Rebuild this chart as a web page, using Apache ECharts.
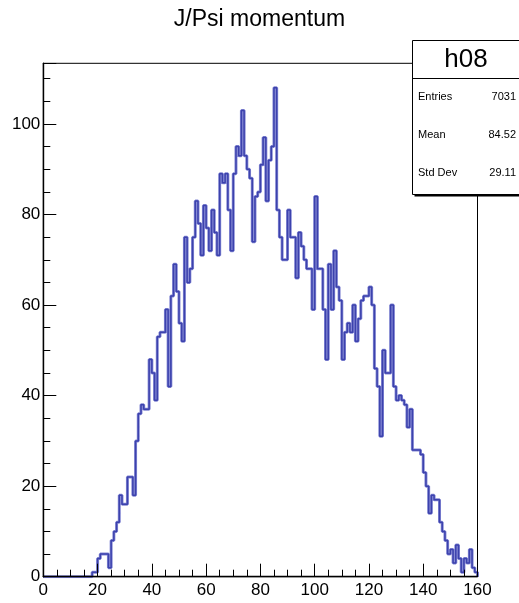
<!DOCTYPE html>
<html>
<head>
<meta charset="utf-8">
<script src="https://cdn.jsdelivr.net/npm/echarts@6/dist/echarts.min.js"></script>
<style>
  html, body { margin: 0; padding: 0; background: #fff; }
  #chart { width: 519px; height: 603px; }
</style>
</head>
<body>
<div id="chart"></div>
<script>
// Histogram h08: J/Psi momentum, 160 bins of width 1 from 0 to 160
const histName = 'h08';
const histTitle = 'J/Psi momentum';
const xLow = 0;
const xHigh = 160;
const yMax = 113.4;

// bin contents, 20 bins per row
const counts = [
  0, 0, 0, 0, 0, 0, 0, 0, 0, 0, 0, 0, 0, 0, 0, 0, 0, 0, 1, 1,
  4, 5, 5, 5, 2, 8, 10, 12, 18, 16, 16, 22, 22, 18, 30, 36, 38, 37, 37, 48,
  45, 39, 53, 54, 54, 59, 42, 62, 69, 63, 56, 52, 75, 65, 68, 75, 83, 78, 71, 82,
  77, 72, 81, 76, 71, 89, 87, 89, 81, 72, 89, 95, 93, 103, 93, 90, 88, 74, 84, 85,
  91, 97, 83, 92, 95, 108, 81, 75, 70, 70, 81, 75, 75, 66, 76, 73, 70, 68, 68, 59,
  84, 68, 68, 59, 48, 69, 59, 72, 64, 61, 48, 54, 56, 54, 60, 52, 57, 61, 62, 62,
  64, 60, 46, 42, 31, 50, 45, 45, 60, 42, 39, 40, 39, 38, 33, 37, 28, 28, 28, 27,
  23, 20, 14, 18, 17, 17, 12, 10, 8, 5, 6, 3, 7, 4, 1, 4, 3, 6, 2, 1
];

// statistics box
const statLabels = ['Entries', 'Mean', 'Std Dev'];
const statValues = ['7031', '84.52', '29.11'];

// step outline: each bin starts at its low edge, closed down to zero at the end
const binWidth = (xHigh - xLow) / counts.length;
const outline = counts.map((c, i) => [xLow + i * binWidth, c]);
outline.push([xHigh, counts[counts.length - 1]]);
outline.push([xHigh, 0]);

const font = 'Liberation Sans, Arial, Helvetica, sans-serif';
const chart = echarts.init(document.getElementById('chart'), null, { renderer: 'canvas' });

const box = { x: 412.5, y: 40.5, w: 120, h: 154 };
const rowY = [97, 135, 173];

const graphics = [
  { type: 'rect', z: 100, shape: { x: box.x + 2, y: box.y + 2, width: box.w, height: box.h },
    style: { fill: '#000' } },
  { type: 'rect', z: 101, shape: { x: box.x, y: box.y, width: box.w, height: box.h },
    style: { fill: '#fff', stroke: '#000', lineWidth: 1 } },
  { type: 'line', z: 102, shape: { x1: box.x, y1: 78.5, x2: box.x + box.w, y2: 78.5 },
    style: { stroke: '#000', lineWidth: 1 } },
  { type: 'text', z: 103, x: 466, y: 60,
    style: { text: histName, font: '26px ' + font, fill: '#000', align: 'center', verticalAlign: 'middle' } }
];
statLabels.forEach((lab, i) => {
  graphics.push({ type: 'text', z: 103, x: 418, y: rowY[i],
    style: { text: lab, font: '11px ' + font, fill: '#000', align: 'left', verticalAlign: 'middle' } });
  graphics.push({ type: 'text', z: 103, x: 516, y: rowY[i],
    style: { text: statValues[i], font: '11px ' + font, fill: '#000', align: 'right', verticalAlign: 'middle' } });
});

// the outline is stroked twice: a soft wide halo and a darker core
const stepSeries = (color, width, z) => ({
  type: 'line',
  step: 'end',
  data: outline,
  symbol: 'none',
  clip: true,
  silent: true,
  z: z,
  lineStyle: { color: color, width: width }
});

chart.setOption({
  animation: false,
  backgroundColor: '#fff',
  title: {
    text: histTitle,
    left: 'center',
    top: 3,
    textStyle: { fontSize: 23, fontWeight: 'normal', color: '#000', fontFamily: font }
  },
  grid: {
    left: 43.3, top: 63.3, right: 41.5, bottom: 26.3,
    show: true, borderColor: '#000', borderWidth: 1, backgroundColor: '#fff'
  },
  xAxis: {
    type: 'value', min: xLow, max: xHigh, interval: 20, z: 5,
    axisLine: { show: true, lineStyle: { color: '#000', width: 1.4 } },
    axisTick: { show: true, inside: true, length: 13, lineStyle: { color: '#000', width: 1 } },
    minorTick: { show: true, splitNumber: 4, length: 7, lineStyle: { color: '#000', width: 1 } },
    splitLine: { show: false },
    axisLabel: { color: '#000', fontSize: 17, fontFamily: font, margin: 5 }
  },
  yAxis: {
    type: 'value', min: 0, max: yMax, interval: 20, z: 5,
    axisLine: { show: true, lineStyle: { color: '#000', width: 1.4 } },
    axisTick: { show: true, inside: true, length: 13, lineStyle: { color: '#000', width: 1 } },
    minorTick: { show: true, splitNumber: 4, length: 7, lineStyle: { color: '#000', width: 1 } },
    splitLine: { show: false },
    axisLabel: { color: '#000', fontSize: 17, fontFamily: font, margin: 3, showMaxLabel: false }
  },
  series: [
    stepSeries('#8589d4', 3, 2),
    stepSeries('#3c42ad', 1.5, 3)
  ],
  graphic: graphics
});
</script>
</body>
</html>
